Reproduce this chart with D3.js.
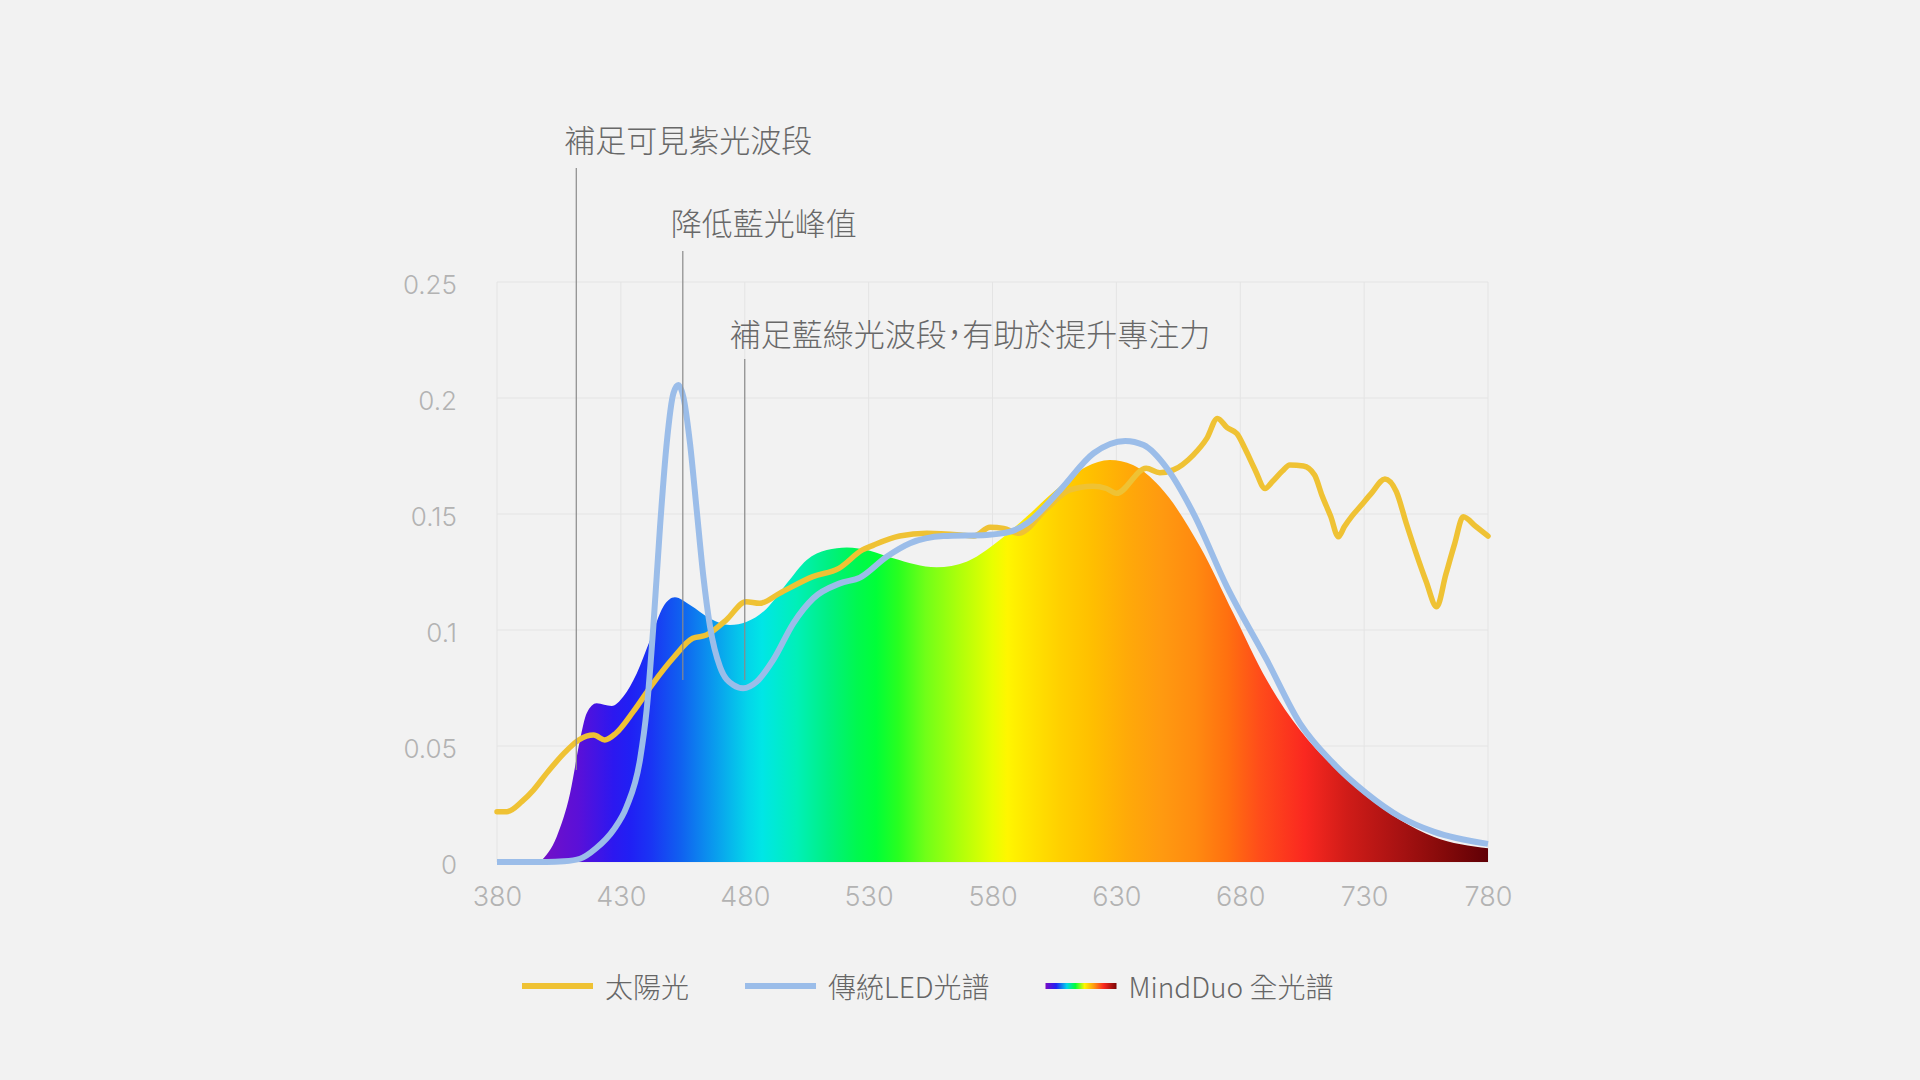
<!DOCTYPE html>
<html>
<head>
<meta charset="utf-8">
<script src="https://cdn.jsdelivr.net/npm/d3@7/dist/d3.min.js"></script>
<style>
  html, body { margin: 0; padding: 0; background: #f2f2f2; }
  svg { display: block; }
  .halt { font-feature-settings: "halt" 1; }
</style>
</head>
<body>
<svg id="chart" width="1920" height="1080"></svg>
<script>
// ---------- DATA ----------
const wavelengthTicks = [380, 430, 480, 530, 580, 630, 680, 730, 780];
const valueTicks = [0, 0.05, 0.1, 0.15, 0.2, 0.25];
const valueTickLabels = ["0", "0.05", "0.1", "0.15", "0.2", "0.25"];

// Sunlight (太陽光)
const sunWl = [380, 384, 390, 394.7, 400, 407, 413, 419, 423.5, 428, 435, 443, 451, 459, 464.5, 472.5, 480.5, 486, 494, 507.5, 518, 527.5, 532, 542.5, 553.5, 567, 572.5, 579, 584.5, 590.5, 602, 611, 620.5, 626, 630, 642, 647.5, 653, 661, 666.5, 670.8, 674.7, 678.7, 682, 686, 690, 693, 697, 700, 705.5, 710, 713, 716.5, 719.6, 722, 725, 728.4, 733, 738.4, 743, 747, 751, 755, 759.3, 763, 766.5, 770, 775, 780];
const sunVal = [0.0217, 0.0217, 0.026, 0.031, 0.0382, 0.0468, 0.0526, 0.0547, 0.0526, 0.0555, 0.0648, 0.077, 0.0878, 0.0964, 0.0978, 0.1043, 0.1122, 0.1115, 0.1158, 0.123, 0.1266, 0.1345, 0.1366, 0.1405, 0.1417, 0.141, 0.1405, 0.1443, 0.1438, 0.1417, 0.1525, 0.1603, 0.162, 0.161, 0.1589, 0.1697, 0.1678, 0.169, 0.1754, 0.1826, 0.1912, 0.1872, 0.1846, 0.178, 0.169, 0.161, 0.164, 0.1685, 0.1711, 0.1707, 0.1668, 0.158, 0.149, 0.1402, 0.1445, 0.149, 0.1532, 0.159, 0.1651, 0.1596, 0.146, 0.133, 0.121, 0.110, 0.124, 0.137, 0.1488, 0.1447, 0.1405];

// Traditional LED (傳統LED光譜)
const ledWl = [380, 400, 407, 413.5, 420, 427, 432.3, 437.7, 440.4, 443.1, 445.8, 448.5, 451.2, 453.2, 455.2, 457.9, 460.6, 463.3, 466, 470, 475.4, 479.4, 484.8, 491.5, 499.6, 507.7, 518.4, 526.5, 537.3, 546.7, 560.2, 577.7, 587.2, 593.9, 607.3, 620.8, 633.6, 641, 650.4, 661.1, 674.6, 690.7, 704.1, 717.6, 731, 744.5, 758, 780];
const ledVal = [0, 0, 0.0003, 0.0014, 0.0059, 0.0138, 0.0238, 0.044, 0.0655, 0.1014, 0.1445, 0.1805, 0.202, 0.2056, 0.2006, 0.1805, 0.1517, 0.123, 0.1014, 0.0842, 0.0763, 0.0749, 0.0777, 0.0871, 0.1029, 0.1137, 0.1201, 0.1226, 0.1316, 0.1374, 0.1405, 0.141, 0.1424, 0.146, 0.1603, 0.1762, 0.1815, 0.1797, 0.1697, 0.1503, 0.1187, 0.0871, 0.0598, 0.0425, 0.0296, 0.0195, 0.0131, 0.0078];

// MindDuo full spectrum (MindDuo 全光譜)
const mdWl = [397.4, 404.1, 409.5, 413.5, 416.2, 420.2, 426.3, 431, 436.4, 441.8, 447.1, 451.8, 457.9, 466, 474, 480.8, 488.9, 497, 505, 513.1, 521.2, 530.5, 539.9, 557.4, 569.5, 580.3, 593.7, 607.2, 617.9, 627.3, 636.7, 647.5, 663.8, 677.2, 690.7, 704.1, 717.6, 731, 744.5, 758, 780];
const mdVal = [0, 0.0109, 0.0296, 0.0526, 0.0641, 0.0684, 0.0672, 0.0713, 0.0813, 0.0957, 0.11, 0.1141, 0.1108, 0.105, 0.1022, 0.1036, 0.1093, 0.1201, 0.1302, 0.1345, 0.1356, 0.1342, 0.1309, 0.127, 0.1294, 0.1366, 0.1488, 0.1618, 0.1704, 0.1733, 0.1711, 0.1618, 0.1359, 0.1072, 0.0784, 0.0569, 0.0411, 0.0282, 0.0181, 0.0109, 0.0059];

// Annotations
const annoText = ["補足可見紫光波段", "降低藍光峰值", "補足藍綠光波段，有助於提升專注力"];
const annoWl = [412, 455, 480];
const annoLabelVal = [0.312, 0.2759, 0.2284];
const annoTopVal = [0.2991, 0.2634, 0.2168];
const annoBottomVal = [0.0397, 0.0784, 0.0784];

// Legend
const legendLabels = ["太陽光", "傳統LED光譜", "MindDuo 全光譜"];

// ---------- STYLE ----------
const sunColor = "#efc234";
const ledColor = "#9bbde9";
const spectrumStops = [
  [380, "#7a0cc4"], [400, "#7010c8"], [413, "#5a10d8"], [427, "#2c18f0"], [434, "#2020f4"],
  [442, "#1a34f4"], [454, "#1060f0"], [467, "#0a98ee"], [481, "#04d4ea"], [487, "#00e6e6"],
  [501, "#00f0b8"], [514, "#00f080"], [525, "#00f850"], [533, "#00ff38"], [542, "#28ff20"],
  [553, "#70ff18"], [567, "#b0ff0a"], [580, "#e8ff00"], [586, "#fff600"], [593, "#ffe800"],
  [607, "#ffd000"], [620, "#ffbf00"], [634, "#ffaa08"], [648, "#ff9a10"], [662, "#ff8a10"],
  [675, "#ff7010"], [688, "#ff4c1a"], [706, "#fa2820"], [723, "#d01c18"], [744, "#a81212"],
  [762, "#850a0a"], [780, "#600006"]
];
const legendStops = [
  [0, "#7a0cc4"], [0.15, "#2020f4"], [0.3, "#04d4ea"], [0.42, "#00ff38"],
  [0.55, "#fff600"], [0.68, "#ff9a10"], [0.82, "#fa2820"], [1, "#7a0606"]
];

const W = 1920, H = 1080;
const plot = { left: 497, right: 1488, top: 282, bottom: 862 };
const tickFont = "Inter, 'Noto Sans', sans-serif";
const cjkFont = "'Noto Sans CJK TC', 'Noto Sans', sans-serif";

const svg = d3.select("#chart");
svg.append("rect").attr("width", W).attr("height", H).attr("fill", "#f2f2f2");

const x = d3.scaleLinear().domain([380, 780]).range([plot.left, plot.right]);
const y = d3.scaleLinear().domain([0, 0.25]).range([plot.bottom, plot.top]);

// gradients
const defs = svg.append("defs");
const gSpec = defs.append("linearGradient").attr("id", "spec")
  .attr("gradientUnits", "userSpaceOnUse")
  .attr("x1", x(380)).attr("x2", x(780)).attr("y1", 0).attr("y2", 0);
spectrumStops.forEach(([wl, c]) => {
  gSpec.append("stop").attr("offset", ((wl - 380) / 400 * 100) + "%").attr("stop-color", c);
});
const gLeg = defs.append("linearGradient").attr("id", "specLegend")
  .attr("x1", "0%").attr("x2", "100%").attr("y1", "0%").attr("y2", "0%");
legendStops.forEach(([o, c]) => {
  gLeg.append("stop").attr("offset", (o * 100) + "%").attr("stop-color", c);
});

// gridlines
const grid = svg.append("g").attr("stroke", "#e4e4e4").attr("stroke-width", 1);
grid.selectAll("line.v").data(wavelengthTicks).join("line")
  .attr("x1", d => x(d)).attr("x2", d => x(d))
  .attr("y1", y(0)).attr("y2", y(0.25));
grid.selectAll("line.h").data(valueTicks).join("line")
  .attr("x1", x(380)).attr("x2", x(780))
  .attr("y1", d => y(d)).attr("y2", d => y(d));

// MindDuo area
const mdData = mdWl.map((w, i) => [w, mdVal[i]]);
const area = d3.area().x(d => x(d[0])).y0(y(0)).y1(d => y(d[1])).curve(d3.curveMonotoneX);
svg.append("path").datum(mdData).attr("d", area).attr("fill", "url(#spec)");

// sunlight line
const line = d3.line().x(d => x(d[0])).y(d => y(d[1])).curve(d3.curveMonotoneX);
const sunData = sunWl.map((w, i) => [w, sunVal[i]]);
svg.append("path").datum(sunData).attr("d", line)
  .attr("fill", "none").attr("stroke", sunColor).attr("stroke-width", 5.5)
  .attr("stroke-linejoin", "round").attr("stroke-linecap", "round");

// LED line
const ledData = ledWl.map((w, i) => [w, ledVal[i]]);
svg.append("path").datum(ledData).attr("d", line)
  .attr("fill", "none").attr("stroke", ledColor).attr("stroke-width", 6)
  .attr("stroke-linejoin", "round");

// annotations
const anno = svg.append("g");
annoText.forEach((t, i) => {
  anno.append("line")
    .attr("x1", x(annoWl[i])).attr("x2", x(annoWl[i]))
    .attr("y1", y(annoTopVal[i])).attr("y2", y(annoBottomVal[i]))
    .attr("stroke", "#8a8a8a").attr("stroke-width", 1.2);
  anno.append("text")
    .attr("class", "halt")
    .attr("x", x(annoWl[i]) - (i === 2 ? 15 : 12))
    .attr("y", y(annoLabelVal[i]))
    .attr("dominant-baseline", "central")
    .attr("font-family", cjkFont).attr("font-size", 31).attr("font-weight", 300)
    .attr("fill", "#686868")
    .text(t);
});

// axes
const yAxis = d3.axisLeft(y).tickValues(valueTicks)
  .tickFormat((d, i) => valueTickLabels[i]).tickSize(0).tickPadding(40);
const gy = svg.append("g").attr("transform", `translate(${plot.left},0)`).call(yAxis);
gy.select(".domain").remove();
gy.selectAll("text").attr("font-family", tickFont).attr("font-weight", 300)
  .attr("font-size", 26).attr("fill", "#b3b3b3").attr("dy", "0.45em");

const xAxis = d3.axisBottom(x).tickValues(wavelengthTicks).tickFormat(d => String(d)).tickSize(0);
const gx = svg.append("g").attr("transform", `translate(0,${plot.bottom})`).call(xAxis);
gx.select(".domain").remove();
gx.selectAll("text").attr("font-family", tickFont).attr("font-weight", 300)
  .attr("font-size", 27).attr("fill", "#b3b3b3").attr("y", 34).attr("dy", "0.36em");

// legend
const legend = svg.append("g").attr("transform", "translate(522,986)");
let lx = 0;
const swatchW = 71;
legendLabels.forEach((lab, i) => {
  const gi = legend.append("g").attr("transform", `translate(${lx},0)`);
  gi.append("rect").attr("x", 0).attr("y", -3).attr("width", swatchW).attr("height", 6)
    .attr("fill", i === 0 ? sunColor : i === 1 ? ledColor : "url(#specLegend)");
  const tx = gi.append("text").attr("x", swatchW + 12).attr("y", 0)
    .attr("dominant-baseline", "central")
    .attr("font-family", cjkFont).attr("font-size", 28).attr("font-weight", 300).attr("fill", "#666")
    .text(lab);
  lx += swatchW + 12 + tx.node().getComputedTextLength() + 56;
});
</script>
</body>
</html>
